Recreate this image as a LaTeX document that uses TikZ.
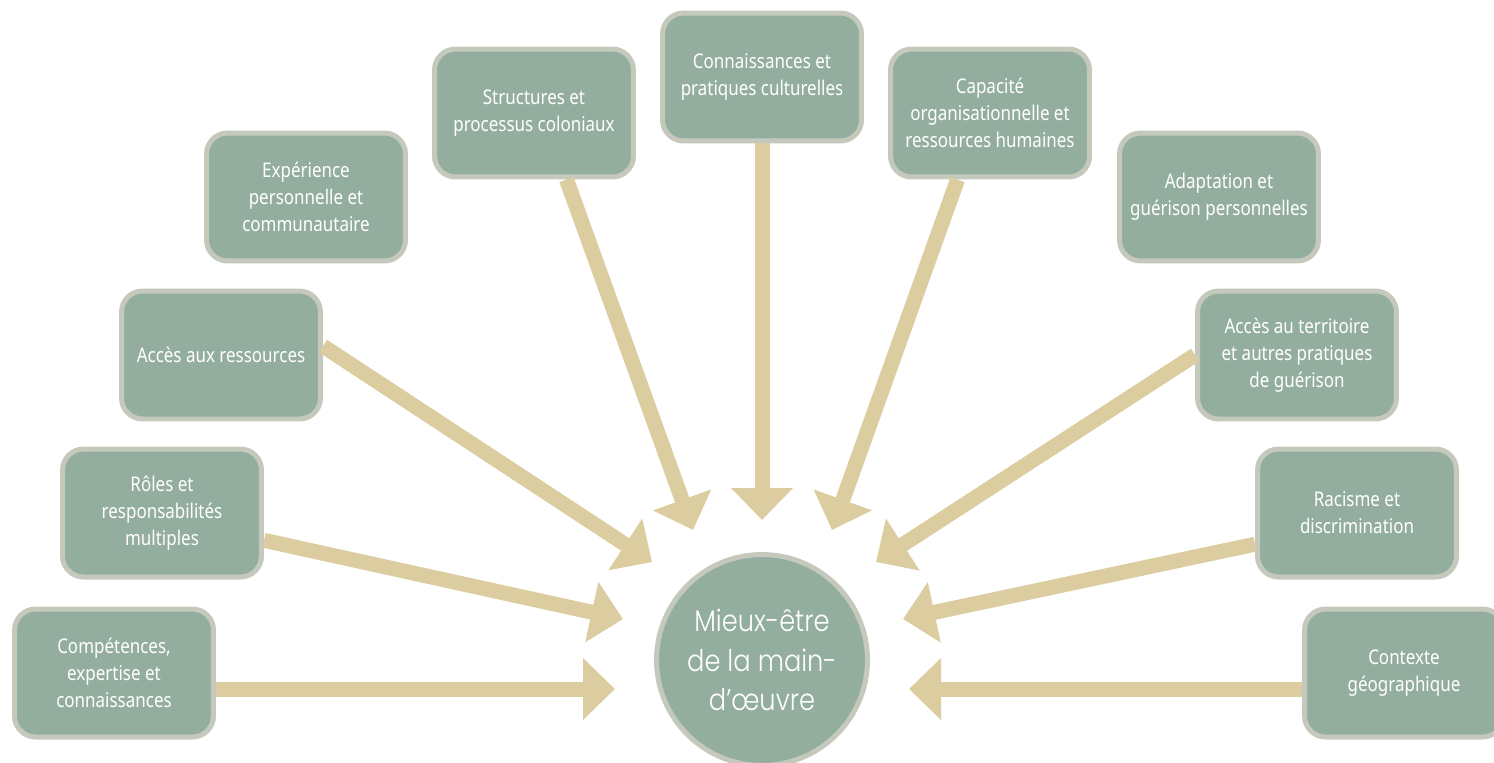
\documentclass[tikz,border=0pt]{standalone}
\usepackage{fontspec}
\newfontfamily\boxfont[FakeStretch=0.84]{Noto Sans}
\newfontfamily\hubfont[UprightFont={* Light},FakeStretch=0.86]{Poppins}
\definecolor{wbsage}{RGB}{147,174,159}
\definecolor{wbrim}{RGB}{197,201,188}
\definecolor{wbsand}{RGB}{219,205,160}
\usetikzlibrary{arrows.meta}

\begin{document}
\begin{tikzpicture}[x=0.02cm,y=-0.02cm,
  factor/.style={draw=wbrim,fill=wbsage,line width=0.1cm,rounded corners=0.42cm,
    minimum width=3.98cm,minimum height=2.56cm,align=center,text=white,
    font=\boxfont\fontsize{11.5}{15.3}\selectfont,inner sep=2pt},
  hub/.style={circle,draw=wbrim,fill=wbsage,line width=0.1cm,minimum size=4.22cm,
    align=center,text=white,font=\hubfont\fontsize{17}{22.5}\selectfont},
  flow/.style={-{Triangle[length=0.64cm,width=1.2cm]},line width=0.3cm,wbsand}
]
  \useasboundingbox (0,0) rectangle (1494,762);
  % Factor boxes
  \node[factor] (comp) at (114,673) {Compétences,\\expertise et\\connaissances};
  \node[factor] (roles) at (162,513) {Rôles et\\responsabilités\\multiples};
  \node[factor] (ress) at (221,355) {Accès aux ressources};
  \node[factor] (exper) at (306,197) {Expérience\\personnelle et\\communautaire};
  \node[factor] (struct) at (534,113) {Structures et\\processus coloniaux};
  \node[factor] (cult) at (762,77) {Connaissances et\\pratiques culturelles};
  \node[factor] (capa) at (990,113) {Capacité\\organisationnelle et\\ressources humaines};
  \node[factor] (adapt) at (1219,197) {Adaptation et\\guérison personnelles};
  \node[factor] (terr) at (1297,355) {Accès au territoire\\et autres pratiques\\de guérison};
  \node[factor] (racism) at (1357,513) {Racisme et\\discrimination};
  \node[factor] (geo) at (1404,673) {Contexte\\géographique};
  % Central circle
  \node[hub] (well) at (762,660) {Mieux-être\\de la main-\\d’œuvre};
  % Arrow tips around the circle
  \coordinate (t1) at (615,689);
  \coordinate (t2) at (623,619);
  \coordinate (t3) at (652,562);
  \coordinate (t4) at (693,530);
  \coordinate (t5) at (762,520);
  \coordinate (t6) at (832,530);
  \coordinate (t7) at (876,562);
  \coordinate (t8) at (903,619);
  \coordinate (t9) at (909,689);
  % Arrows
  \draw[flow] (comp.east |- t1) -- (t1);
  \draw[flow] (roles.-15) -- (t2);
  \draw[flow] (ress.5) -- (t3);
  \draw[flow] (struct.-64) -- (t4);
  \draw[flow] (cult.south) -- (t5);
  \draw[flow] (capa.-116) -- (t6);
  \draw[flow] (terr.west) -- (t7);
  \draw[flow] (racism.197) -- (t8);
  \draw[flow] (geo.west |- t9) -- (t9);
\end{tikzpicture}
\end{document}
